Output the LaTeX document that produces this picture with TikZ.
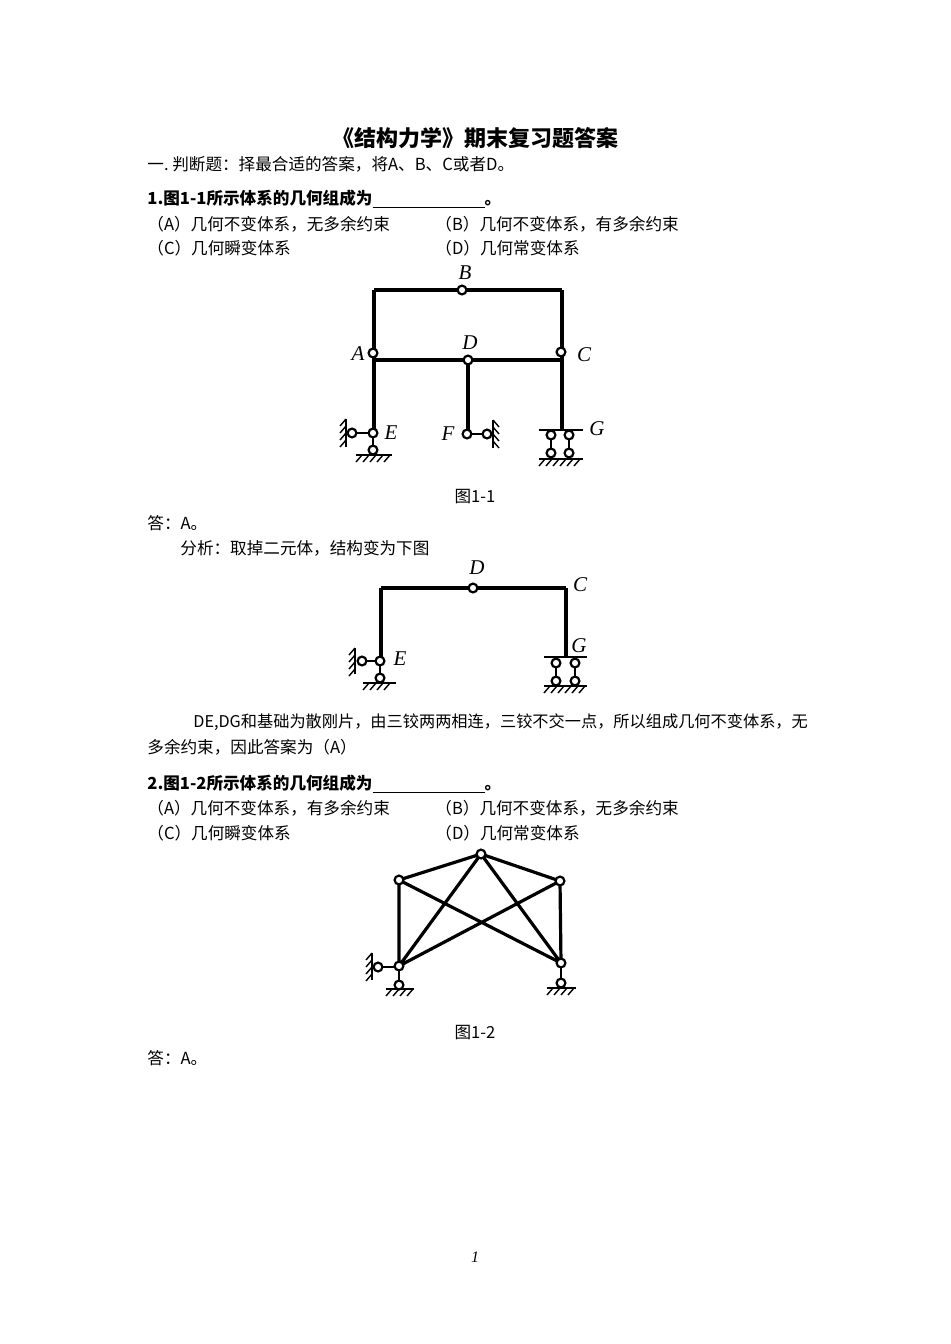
\documentclass[tikz,border=0pt]{standalone}
\usepackage{fontspec}
\setmainfont{Liberation Serif}
\newfontfamily\cjk{Noto Sans CJK SC}
\begin{document}
\begin{tikzpicture}[x=0.5pt,y=-0.5pt,
  bar/.style={line width=1.6pt},
  hg/.style={circle,draw,line width=1.1pt,fill=white,inner sep=0pt,minimum size=4.4pt},
  txt/.style={anchor=west,inner sep=0pt,font=\cjk\fontsize{8.3}{10}\selectfont},
  lab/.style={inner sep=0pt,font=\itshape\fontsize{10.5}{12}\selectfont},
  hatch/.style={line width=0.7pt}]
\useasboundingbox (0,0) rectangle (950,1344);
\fill[white] (0,0) rectangle (950,1344);
% text
\node[inner sep=0pt,font=\cjk\bfseries\fontsize{11}{13}\selectfont] (title) at (475,138) {《结构力学》期末复习题答案};
\node[txt] (t1) at (147,164) {一.\ 判断题：择最合适的答案，将A、B、C或者D。};
\node[txt,font=\cjk\bfseries\fontsize{8.3}{10}\selectfont] (q1) at (147,199) {1.图1-1所示体系的几何组成为\underline{\hspace{56pt}}。};
\node[txt] (o1a) at (147,224) {（A）几何不变体系，无多余约束};
\node[txt] (o1b) at (435,224) {（B）几何不变体系，有多余约束};
\node[txt] (o1c) at (147,248) {（C）几何瞬变体系};
\node[txt] (o1d) at (435,248) {（D）几何常变体系};
\node[txt,anchor=center] (cap1) at (475,497) {图1-1};
\node[txt] (a1) at (147,523) {答：A。};
\node[txt] (an1) at (180,548) {分析：取掉二元体，结构变为下图};
\node[txt,font=\cjk\fontsize{8.1}{10}\selectfont] (p1) at (193,722) {DE,DG和基础为散刚片，由三铰两两相连，三铰不交一点，所以组成几何不变体系，无};
\node[txt] (p2) at (147,747) {多余约束，因此答案为（A）};
\node[txt,font=\cjk\bfseries\fontsize{8.3}{10}\selectfont] (q2) at (147,784) {2.图1-2所示体系的几何组成为\underline{\hspace{56pt}}。};
\node[txt] (o2a) at (147,808) {（A）几何不变体系，有多余约束};
\node[txt] (o2b) at (435,808) {（B）几何不变体系，无多余约束};
\node[txt] (o2c) at (147,833) {（C）几何瞬变体系};
\node[txt] (o2d) at (435,833) {（D）几何常变体系};
\node[txt,anchor=center] (cap2) at (475,1033) {图1-2};
\node[txt] (a2) at (147,1058) {答：A。};
\node[inner sep=0pt,font=\itshape\fontsize{8}{10}\selectfont] (pg) at (475,1257) {1};

% ===== Figure 1-1 =====
\coordinate (TL) at (374,290); \coordinate (TR) at (562,290);
\coordinate (ML) at (374,360); \coordinate (MR) at (562,360);
\coordinate (Gt) at (562,430);
\draw[bar] (TL)--(TR); \draw[bar] (ML)--(MR);
\draw[bar] (TL)--(374,433); \draw[bar] (TR)--(Gt);
\draw[bar] (468,360)--(468,434);
% E support
\draw[line width=1.2pt] (352,433)--(373,433) (373,433)--(373,450);
\draw[line width=1.2pt] (346,419)--(346,447);
\foreach \y in {419,426,433,440} \draw[hatch] (346,\y)--++(-6,7);
\draw[line width=1.2pt] (356,455)--(392,455);
\foreach \x in {362,369,376,383,390} \draw[hatch] (\x,455)--++(-6,7);
% F support
\draw[line width=1.2pt] (467,434)--(487,434);
\draw[line width=1.2pt] (493,420)--(493,448);
\foreach \y in {420,427,434,441} \draw[hatch] (493,\y)--++(6,7);
% G support
\draw[line width=1.2pt] (539,430)--(583,430);
\draw[line width=1.2pt] (551,435)--(551,453) (569,435)--(569,453);
\draw[line width=1.2pt] (539,459)--(583,459);
\foreach \x in {545,552,559,566,573,580} \draw[hatch] (\x,459)--++(-6,7);
\node[hg] (B) at (462,290) {}; \node[hg] (A) at (373,353) {};
\node[hg] (C) at (561,352) {}; \node[hg] (D) at (468,360) {};
\node[hg] (E) at (373,433) {}; \node[hg] (E1) at (352,433) {}; \node[hg] (E2) at (373,450) {};
\node[hg] (F) at (467,434) {}; \node[hg] (F1) at (487,434) {};
\node[hg] (G1) at (551,435) {}; \node[hg] (G2) at (551,453) {};
\node[hg] (G3) at (569,435) {}; \node[hg] (G4) at (569,453) {};
\node[lab] at (465,273) {B}; \node[lab] at (358,354) {A};
\node[lab] at (470,343) {D}; \node[lab] at (584,355) {C};
\node[lab] at (391,433) {E}; \node[lab] at (448,434) {F};
\node[lab] at (597,429) {G};

% ===== Figure 2 =====
\draw[bar] (381,588)--(566,588); \draw[bar] (381,588)--(381,661); \draw[bar] (566,588)--(566,657);
\draw[line width=1.2pt] (362,661)--(380,661) (380,661)--(380,678);
\draw[line width=1.2pt] (355,648)--(355,674);
\foreach \y in {648,655,662,669} \draw[hatch] (355,\y)--++(-6,7);
\draw[line width=1.2pt] (363,683)--(396,683);
\foreach \x in {369,376,383,390} \draw[hatch] (\x,683)--++(-6,7);
\draw[line width=1.2pt] (544,657)--(587,657);
\draw[line width=1.2pt] (556,663)--(556,681) (575,663)--(575,681);
\draw[line width=1.2pt] (544,686)--(587,686);
\foreach \x in {550,557,564,571,578,585} \draw[hatch] (\x,686)--++(-6,7);
\node[hg] (D2) at (473,588) {};
\node[hg] (E3) at (380,661) {}; \node[hg] (E4) at (362,661) {}; \node[hg] (E5) at (380,678) {};
\node[hg] (H1) at (556,663) {}; \node[hg] (H2) at (556,681) {};
\node[hg] (H3) at (575,663) {}; \node[hg] (H4) at (575,681) {};
\node[lab] at (477,568) {D}; \node[lab] at (580,585) {C};
\node[lab] at (579,646) {G}; \node[lab] at (400,659) {E};

% ===== Figure 1-2 =====
\coordinate (T) at (481,854); \coordinate (L1) at (399,880); \coordinate (R1) at (560,881);
\coordinate (L2) at (399,966); \coordinate (R2) at (561,963);
\draw[bar] (L1)--(T)--(R1) (L1)--(L2) (R1)--(R2) (L1)--(R2) (R1)--(L2) (T)--(L2) (T)--(R2);
\draw[line width=1.2pt] (378,967)--(399,967) (399,966)--(399,985) (561,963)--(561,983);
\draw[line width=1.2pt] (372,953)--(372,980);
\foreach \y in {953,960,967,974} \draw[hatch] (372,\y)--++(-6,7);
\draw[line width=1.2pt] (386,989)--(414,989);
\foreach \x in {392,399,406,413} \draw[hatch] (\x,989)--++(-6,7);
\draw[line width=1.2pt] (547,988)--(576,988);
\foreach \x in {553,560,567,574} \draw[hatch] (\x,988)--++(-6,7);
\node[hg] (nT) at (T) {}; \node[hg] (nL1) at (L1) {}; \node[hg] (nR1) at (R1) {};
\node[hg] (nL2) at (L2) {}; \node[hg] (nR2) at (R2) {};
\node[hg] (s1) at (378,967) {}; \node[hg] (s2) at (399,985) {}; \node[hg] (s3) at (561,983) {};
\end{tikzpicture}
\end{document}
